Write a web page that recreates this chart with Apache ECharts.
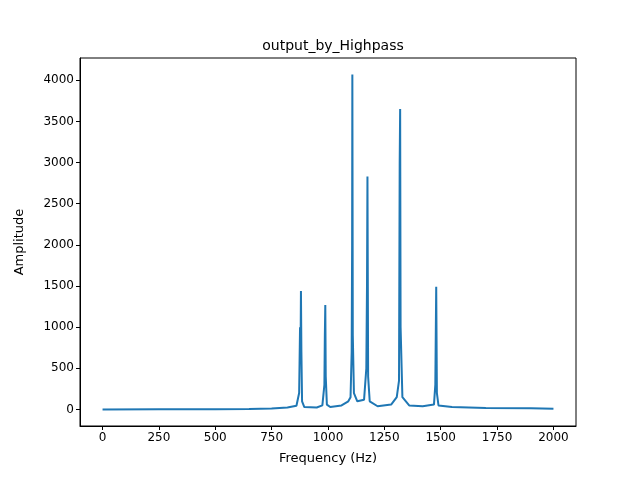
<!DOCTYPE html>
<html><head><meta charset="utf-8">
<script src="https://cdn.jsdelivr.net/npm/echarts@6/dist/echarts.min.js"></script>
<style>body{margin:0}#c{width:640px;height:480px}</style>
</head><body><div id="c"></div>
<script>
// spectrum (Hz, amplitude)
const freq = [0, 250, 500, 502, 650, 750, 820, 860, 872, 876, 878, 880, 882, 885, 895, 950, 975, 984, 986, 988, 990, 995, 1010, 1060, 1090, 1100, 1105, 1107, 1108, 1110, 1115, 1130, 1160, 1170, 1173, 1175, 1178, 1185, 1220, 1280, 1305, 1315, 1318, 1320, 1322, 1330, 1360, 1420, 1470, 1476, 1478, 1480, 1483, 1490, 1550, 1700, 1900, 2000];
const amp  = [0, 2, 3, 12, 5, 12, 25, 45, 200, 1000, 600, 1440, 700, 100, 30, 25, 50, 300, 900, 1270, 400, 60, 30, 50, 100, 150, 700, 2000, 4070, 900, 200, 100, 120, 500, 1500, 2830, 400, 100, 40, 60, 150, 350, 3000, 3650, 1000, 150, 50, 40, 60, 300, 900, 1490, 200, 50, 30, 20, 15, 10];
const xTicks = [0, 250, 500, 750, 1000, 1250, 1500, 1750, 2000];
const yTicks = [0, 500, 1000, 1500, 2000, 2500, 3000, 3500, 4000];

const chart = echarts.init(document.getElementById('c'), null, {renderer: 'canvas'});
const font = 'DejaVu Sans';
chart.setOption({
  animation: false,
  textStyle: {fontFamily: font},
  title: {text: 'output_by_Highpass', left: 328, top: 34, textAlign: 'center',
    textStyle: {fontFamily: font, fontSize: 14, fontWeight: 'normal', color: '#000'}},
  grid: {left: 80, right: 64, top: 58, bottom: 54, show: true, borderColor: '#000', borderWidth: 1},
  xAxis: {
    type: 'value', min: -100, max: 2100,
    name: 'Frequency (Hz)', nameLocation: 'middle', nameGap: 26,
    nameTextStyle: {fontFamily: font, fontSize: 13, color: '#000'},
    splitLine: {show: false},
    axisLine: {show: true, onZero: false, lineStyle: {color: '#000'}},
    axisTick: {show: true, customValues: xTicks, length: 4, lineStyle: {color: '#000'}},
    axisLabel: {customValues: xTicks, formatter: v => String(v), fontFamily: font, fontSize: 12, color: '#000', margin: 6}
  },
  yAxis: {
    type: 'value', min: -200, max: 4270,
    name: 'Amplitude', nameLocation: 'middle', nameGap: 54,
    nameTextStyle: {fontFamily: font, fontSize: 13, color: '#000'},
    splitLine: {show: false},
    axisLine: {show: true, onZero: false, lineStyle: {color: '#000'}},
    axisTick: {show: true, customValues: yTicks, length: 4, lineStyle: {color: '#000'}},
    axisLabel: {customValues: yTicks, formatter: v => String(v), fontFamily: font, fontSize: 12, color: '#000', margin: 6}
  },
  series: [{
    type: 'line', showSymbol: false,
    data: freq.map((f, i) => [f, amp[i]]),
    lineStyle: {color: '#1f77b4', width: 2}
  }]
});
</script></body></html>
